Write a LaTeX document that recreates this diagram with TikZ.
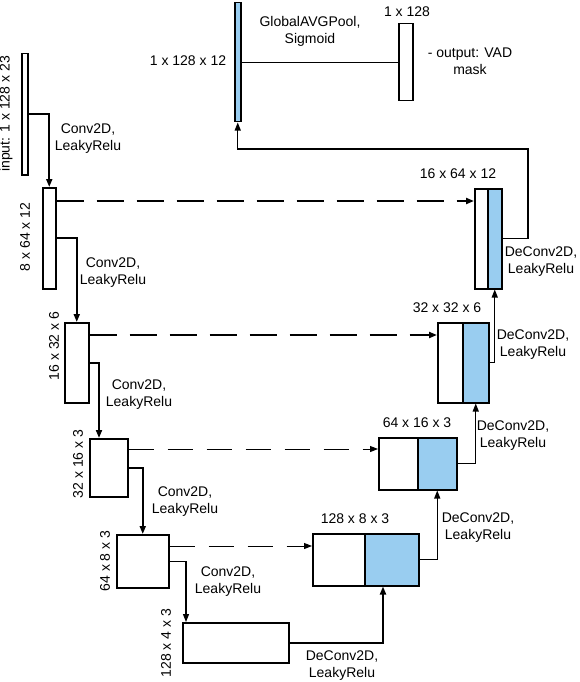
\documentclass[tikz,border=0pt]{standalone}
\usepackage{fontspec}
\setmainfont{Liberation Sans}
\usetikzlibrary{arrows.meta}
\definecolor{featblue}{RGB}{153,205,240}
\tikzset{
  box/.style={draw, line width=1.5pt, fill=white, inner sep=0pt, anchor=north west},
  bluebox/.style={box, fill=featblue},
  lbl/.style={inner sep=0pt, align=center},
  rlbl/.style={inner sep=0pt, rotate=90},
  conn/.style={line width=1.8pt, -{Triangle[length=8pt,width=6pt]}},
  thinconn/.style={line width=1.2pt, -{Triangle[length=8pt,width=6pt]}},
  skipthick/.style={line width=2pt, dash pattern=on 27pt off 13pt, -{Triangle[length=8pt,width=6pt]}},
  skipthin/.style={line width=1pt, dash pattern=on 25pt off 14pt, -{Triangle[length=8pt,width=6pt]}},
}
\begin{document}
\begin{tikzpicture}[x=1pt,y=-1pt,font=\fontsize{14}{17}\selectfont]
\useasboundingbox (0,0) rectangle (580,682);
% encoder
\node[box, minimum width=6pt, minimum height=121pt] (b0) at (21,53) {};
\node[box, minimum width=13pt, minimum height=101pt] (b1) at (42,187) {};
\node[box, minimum width=24pt, minimum height=80pt] (b2) at (64,322) {};
\node[box, minimum width=38pt, minimum height=58pt] (b3) at (89,438) {};
\node[box, minimum width=52pt, minimum height=53pt] (b4) at (116,534) {};
\node[box, minimum width=106pt, minimum height=40pt] (b5) at (182,622) {};
% decoder
\node[box, minimum width=52pt, minimum height=52pt] (d4a) at (312,533) {};
\node[bluebox, minimum width=54pt, minimum height=52pt] (d4b) at (364,533) {};
\node[box, minimum width=39pt, minimum height=52pt] (d3a) at (378,437) {};
\node[bluebox, minimum width=39pt, minimum height=52pt] (d3b) at (417,437) {};
\node[box, minimum width=25pt, minimum height=80pt] (d2a) at (437,322) {};
\node[bluebox, minimum width=26pt, minimum height=80pt] (d2b) at (462,322) {};
\node[box, minimum width=13pt, minimum height=100pt] (d1a) at (474,188) {};
\node[bluebox, minimum width=14pt, minimum height=100pt] (d1b) at (487,188) {};
\node[bluebox, minimum width=6pt, minimum height=119pt] (bar) at (234,2) {};
\node[box, minimum width=14pt, minimum height=77pt] (out) at (398,23) {};
% size labels
\node[rlbl] (l0) at (6,114) {input: 1 x 128 x 23};
\node[rlbl] (l1) at (25,237) {8 x 64 x 12};
\node[rlbl] (l2) at (54,346) {16 x 32 x 6};
\node[rlbl] (l3) at (78,464) {32 x 16 x 3};
\node[rlbl] (l4) at (105,561) {64 x 8 x 3};
\node[rlbl] (l5) at (166,643) {128 x 4 x 3};
\node[lbl] (lbar) at (188,61) {1 x 128 x 12};
\node[lbl] (lgap) at (310,31) {GlobalAVGPool,\\Sigmoid};
\node[lbl] (lout) at (407,12) {1 x 128};
\node[lbl] (lvad) at (470,61) {- output: VAD\\mask};
\node[lbl] (ld1) at (458,174) {16 x 64 x 12};
\node[lbl] (ld2) at (447,308) {32 x 32 x 6};
\node[lbl] (ld3) at (417,423) {64 x 16 x 3};
\node[lbl] (ld4) at (355,519) {128 x 8 x 3};
% operation labels
\node[lbl] (c1) at (88,139) {Conv2D,\\LeakyRelu};
\node[lbl] (c2) at (113,273) {Conv2D,\\LeakyRelu};
\node[lbl] (c3) at (139,395) {Conv2D,\\LeakyRelu};
\node[lbl] (c4) at (185,502) {Conv2D,\\LeakyRelu};
\node[lbl] (c5) at (228,582) {Conv2D,\\LeakyRelu};
\node[lbl] (e5) at (342,666) {DeConv2D,\\LeakyRelu};
\node[lbl] (e4) at (478,528) {DeConv2D,\\LeakyRelu};
\node[lbl] (e3) at (513,436) {DeConv2D,\\LeakyRelu};
\node[lbl] (e2) at (533,345) {DeConv2D,\\LeakyRelu};
\node[lbl] (e1) at (541,262) {DeConv2D,\\LeakyRelu};
% encoder connectors
\draw[conn] (b0.east) -| (b1.north);
\draw[conn] (b1.east) -| (b2.north);
\coordinate (b3in) at ([xshift=10pt]b3.north west);
\draw[conn] (b2.east) -| (b3in);
\draw[conn] (b3.east) -| (b4.north);
\coordinate (b5in) at ([xshift=4pt]b5.north west);
\draw[thinconn] (b4.east) -| (b5in);
% decoder connectors
\coordinate (d4in) at ([xshift=19pt]d4b.south west);
\draw[conn] (b5.east) -| (d4in);
\draw[thinconn] (d4b.east) -| (d3b.south);
\draw[thinconn] (d3b.east) -| (d2b.south);
\draw[thinconn] (d2b.east) -| (d1b.south);
\coordinate (tc) at (528,149);
\draw[thinconn] (d1b.east) -| (tc) -| (bar.south);
\draw[line width=1pt] (bar.east) -- (out.west);
% skip connections
\coordinate (s1) at ([yshift=-14pt]b1.north east);
\coordinate (s2) at ([yshift=-13pt]b2.north east);
\coordinate (s3) at ([yshift=-11pt]b3.north east);
\coordinate (s4) at ([yshift=-12pt]b4.north east);
\draw[skipthick] (s1) -- (s1 -| d1a.west);
\draw[skipthick] (s2) -- (s2 -| d2a.west);
\draw[skipthin] (s3) -- (s3 -| d3a.west);
\draw[skipthin] (s4) -- (s4 -| d4a.west);
\end{tikzpicture}
\end{document}
